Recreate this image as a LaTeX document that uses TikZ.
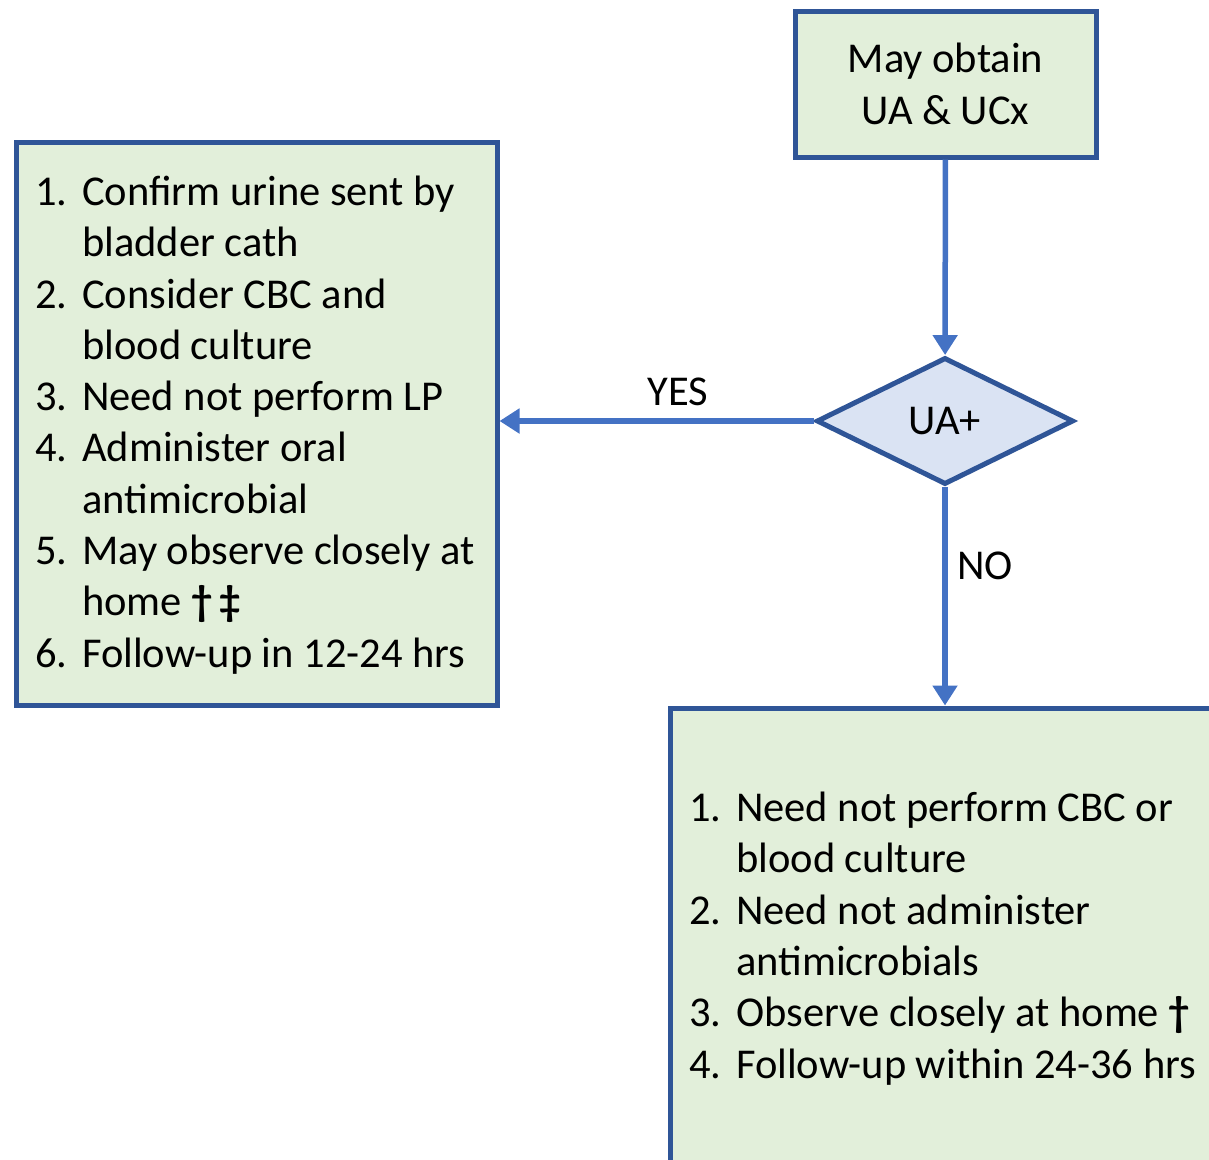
\documentclass[tikz,border=0pt]{standalone}
\usepackage{fontspec}
\setmainfont{Carlito}
\usetikzlibrary{shapes.geometric,arrows.meta}

\definecolor{boxline}{HTML}{2F5597}
\definecolor{boxfill}{HTML}{E2EFDA}
\definecolor{diafill}{HTML}{DAE3F3}
\definecolor{flowblue}{HTML}{4472C4}

\tikzset{
  box/.style={draw=boxline, fill=boxfill, line width=5pt, inner sep=0pt},
  decision/.style={diamond, draw=boxline, fill=diafill, line width=5pt, inner sep=0pt,
    minimum width=257pt, minimum height=127pt},
  flow/.style={draw=flowblue, line width=5.5pt, -{Triangle[length=20pt,width=24pt]}},
  steps/.style={anchor=west, align=left, inner sep=0pt},
}
\newcommand{\bigtext}{\fontsize{42.5}{51.3}\selectfont}
\newcommand{\num}[1]{\makebox[47pt][l]{#1}}
\newcommand{\gap}{\hspace*{47pt}}

\begin{document}
\begin{tikzpicture}[x=1pt, y=-1pt, font=\bigtext]
  \useasboundingbox (0,0) rectangle (1209,1159);
  \clip (0,0) rectangle (1209,1159);

  % Boxes
  \node[box, minimum width=301pt, minimum height=146pt, align=center] (obtain) at (945.5,84) {May obtain\\UA \& UCx};
  \node[decision] (ua) at (945,421) {UA+};
  \node[box, minimum width=481pt, minimum height=563pt] (yesbox) at (256.5,423.5) {};
  \node[box, minimum width=560pt, minimum height=480pt] (nobox) at (950,948) {};

  % Lists
  \node[steps] (yeslist) at (35,425) {%
    \num{1.}Confirm urine sent by\\
    \gap bladder cath\\
    \num{2.}Consider CBC and\\
    \gap blood culture\\
    \num{3.}Need not perform LP\\
    \num{4.}Administer oral\\
    \gap antimicrobial\\
    \num{5.}May observe closely at\\
    \gap home \textbf{†}\,\textbf{‡}\\
    \num{6.}Follow-up in 12-24 hrs};
  \node[steps] (nolist) at (689,938.5) {%
    \num{1.}Need not perform CBC or\\
    \gap blood culture\\
    \num{2.}Need not administer\\
    \gap antimicrobials\\
    \num{3.}Observe closely at home \textbf{†}\\
    \num{4.}Follow-up within 24-36 hrs};

  % Connectors
  \draw[flow] (obtain) -- (ua);
  \draw[flow] (ua.west) -- (ua.west -| yesbox.east);
  \draw[flow] (ua.south) -- (ua.south |- nobox.north);

  \node (yes) at (678,392) {YES};
  \node (no) at (985,566) {NO};
\end{tikzpicture}
\end{document}
